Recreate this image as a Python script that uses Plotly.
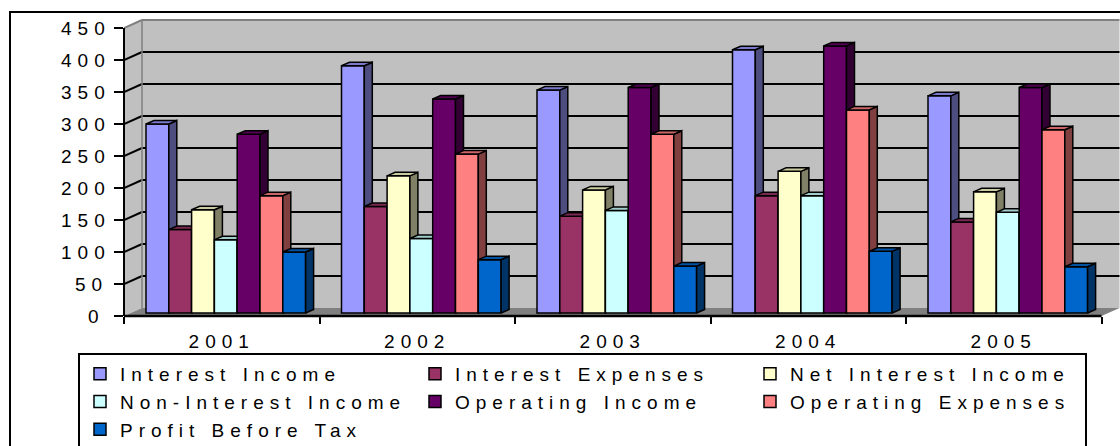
import plotly.graph_objects as go

# ---- data -------------------------------------------------------------
years = ["2001", "2002", "2003", "2004", "2005"]
series_names = [
    "Interest Income", "Interest Expenses", "Net Interest Income",
    "Non-Interest Income", "Operating Income", "Operating Expenses",
    "Profit Before Tax",
]
interest_income = [300, 391, 353, 416, 344]
interest_expenses = [135, 171, 156, 188, 147]
net_interest_income = [166, 219, 197, 226, 194]
non_interest_income = [119, 121, 165, 188, 162]
operating_income = [284, 339, 357, 422, 357]
operating_expenses = [188, 253, 284, 322, 291]
profit_before_tax = [100, 88, 78, 101, 77]
y_ticks = [0, 50, 100, 150, 200, 250, 300, 350, 400, 450]

series_values = [
    interest_income, interest_expenses, net_interest_income,
    non_interest_income, operating_income, operating_expenses,
    profit_before_tax,
]

# front / side / top shades for the 3-D columns
palette = [
    ("#9999FF", "#4D4D80", "#7A7ACC"),
    ("#993366", "#4D1A33", "#7A2952"),
    ("#FFFFCC", "#808066", "#CCCCA3"),
    ("#CCFFFF", "#668080", "#A3CCCC"),
    ("#660066", "#330033", "#520052"),
    ("#FF8080", "#804040", "#CC6666"),
    ("#0066CC", "#003366", "#0052A3"),
]

# ---- geometry ---------------------------------------------------------
W, H = 1120, 446
ML, MT, MB, MR = 124, 18, 130, 0
plot_w = W - ML - MR
plot_h = H - MT - MB
CAT_PX = 195.5          # pixels per category
VAL_PX = 0.64           # pixels per value unit
x_range = [-0.5, -0.5 + plot_w / CAT_PX]
y_range = [0, plot_h / VAL_PX]


def ux(p):
    return p / CAT_PX


def uy(p):
    return p / VAL_PX


def xp(x):
    return (x - x_range[0]) / (x_range[1] - x_range[0])


def yp(y):
    return (y - y_range[0]) / (y_range[1] - y_range[0])


WALL_DX, WALL_DY = ux(18), uy(8)
BAR_DX, BAR_DY = ux(8), uy(3.5)
BAR_W = ux(22.8)
GROUP_LEFT = ux(22)
BAR_BASE = uy(3)
TOP = y_ticks[-1]
N = len(years)
FONT = "Liberation Sans, Arial, sans-serif"
FS = 19

fig = go.Figure()

# ---- columns: one overlaid subplot per series so later series sit on top
for k, (name, vals) in enumerate(zip(series_names, series_values)):
    front, side, top = palette[k]
    xa = "x" if k == 0 else f"x{k + 1}"
    ya = "y" if k == 0 else f"y{k + 1}"
    offset = -0.5 + GROUP_LEFT + k * BAR_W
    fig.add_trace(go.Bar(
        name=name, x=list(range(N)), y=[v - BAR_BASE for v in vals],
        base=BAR_BASE, width=BAR_W, offset=offset,
        marker=dict(color=front, line=dict(color="black", width=1.5)),
        xaxis=xa, yaxis=ya, hoverinfo="skip", showlegend=True,
    ))
    sx, sy, tx, ty = [], [], [], []
    for i, v in enumerate(vals):
        xl = i + offset
        xr = xl + BAR_W
        sx += [xr, xr + BAR_DX, xr + BAR_DX, xr, xr, None]
        sy += [BAR_BASE, BAR_BASE + BAR_DY, v + BAR_DY, v, BAR_BASE, None]
        tx += [xl, xr, xr + BAR_DX, xl + BAR_DX, xl, None]
        ty += [v, v, v + BAR_DY, v + BAR_DY, v, None]
    for px_, py_, col in ((sx, sy, side), (tx, ty, top)):
        fig.add_trace(go.Scatter(
            x=px_, y=py_, mode="lines", fill="toself", fillcolor=col,
            line=dict(color="black", width=1.5), xaxis=xa, yaxis=ya,
            hoverinfo="skip", showlegend=False,
        ))

# ---- walls, floor and gridlines --------------------------------------
shapes = []
x0, x1 = -0.5, N - 0.5
bx0, bx1 = x0 + WALL_DX, x1 + WALL_DX


def poly(pts, fill, line_col=None, lw=0):
    path = "M " + " L ".join(f"{a},{b}" for a, b in pts) + " Z"
    return dict(type="path", path=path, xref="x", yref="y", layer="below",
                fillcolor=fill, line=dict(color=line_col or fill, width=lw))


shapes.append(poly([(bx0, WALL_DY), (bx1, WALL_DY), (bx1, TOP + WALL_DY),
                    (bx0, TOP + WALL_DY)], "#C0C0C0"))
shapes.append(poly([(x0, 0), (bx0, WALL_DY), (bx0, TOP + WALL_DY), (x0, TOP)],
                   "#C0C0C0"))
shapes.append(poly([(x0, 0), (x1, 0), (bx1, WALL_DY), (bx0, WALL_DY)],
                   "#808080"))

for t in y_ticks[1:]:
    col = "#808080" if t == TOP else "black"
    shapes.append(dict(type="line", xref="x", yref="y", layer="below",
                       x0=bx0, x1=bx1, y0=t + WALL_DY, y1=t + WALL_DY,
                       line=dict(color=col, width=2)))
    shapes.append(dict(type="line", xref="x", yref="y", layer="below",
                       x0=x0, x1=bx0, y0=t, y1=t + WALL_DY,
                       line=dict(color=col, width=2)))
shapes.append(dict(type="line", xref="x", yref="y", layer="below",
                   x0=bx0, x1=bx0, y0=WALL_DY, y1=TOP + WALL_DY,
                   line=dict(color="#808080", width=1.5)))

# value and category axis lines
shapes.append(dict(type="line", xref="paper", yref="paper",
                   x0=xp(x0), x1=xp(x0), y0=yp(0), y1=yp(TOP),
                   line=dict(color="black", width=2)))
shapes.append(dict(type="line", xref="paper", yref="paper",
                   x0=xp(x0), x1=xp(x1), y0=yp(0), y1=yp(0),
                   line=dict(color="black", width=2.5)))

# chart-area border
shapes.append(dict(type="rect", xref="paper", yref="paper", layer="below",
                   x0=(10 - ML) / plot_w, x1=(W + 30 - ML) / plot_w,
                   y0=(H - MB - 12) / plot_h, y1=(H - MB - 480) / plot_h,
                   line=dict(color="black", width=2), fillcolor="white"))

# value-axis labels, right aligned left of the tick marks
label_right_px = 104
annotations = [
    dict(text=str(t), x=(label_right_px - ML) / plot_w, xref="paper",
         xanchor="right", y=t, yref="y", yanchor="middle", showarrow=False,
         font=dict(family=FONT, size=FS, color="black"))
    for t in y_ticks
]

# ---- layout -----------------------------------------------------------
layout = dict(
    width=W, height=H,
    margin=dict(l=ML, r=MR, t=MT, b=MB, pad=0, autoexpand=False),
    paper_bgcolor="white", plot_bgcolor="rgba(0,0,0,0)",
    font=dict(family=FONT, size=FS, color="black"),
    showlegend=True,
    shapes=shapes,
    annotations=annotations,
    legend=dict(
        orientation="h", x=(78 - ML) / plot_w, y=(plot_h + MT - 353) / plot_h,
        xanchor="left", yanchor="top",
        entrywidth=290, entrywidthmode="pixels",
        bgcolor="white", bordercolor="black", borderwidth=2,
        font=dict(family=FONT, size=FS, color="black"),
        traceorder="normal",
    ),
    xaxis=dict(
        range=x_range, tickmode="array", tickvals=list(range(N)),
        ticktext=years, ticks="", showgrid=False, zeroline=False,
        showline=False, fixedrange=True, ticklabelstandoff=12,
        automargin=False,
        tickfont=dict(family=FONT, size=FS, color="black"),
        minor=dict(ticks="outside", ticklen=7, tickwidth=2,
                   tickcolor="black", tickmode="array",
                   tickvals=[i - 0.5 for i in range(N + 1)], showgrid=False),
    ),
    yaxis=dict(
        range=y_range, tickmode="array", tickvals=y_ticks, ticks="outside",
        ticklen=9, tickwidth=2, tickcolor="black", showgrid=False,
        zeroline=False, showline=False, fixedrange=True,
        showticklabels=False, automargin=False,
    ),
    barmode="overlay",
)
for k in range(1, len(series_names)):
    layout[f"xaxis{k + 1}"] = dict(range=x_range, overlaying="x",
                                   visible=False, fixedrange=True)
    layout[f"yaxis{k + 1}"] = dict(range=y_range, overlaying="y",
                                   visible=False, fixedrange=True)

fig.update_layout(**layout)

# wide character tracking for axis and legend text, then redraw so the
# text is measured with the tracking in place
tracking = (
    "var s=document.createElement('style');"
    "s.textContent='.xtick text,.annotation-text,.legendtext"
    "{letter-spacing:6px}';"
    "document.head.appendChild(s);"
    "var gd=document.getElementById('{plot_id}');"
    "return Plotly.newPlot(gd, gd.data, gd.layout);"
)
fig.write_html("out.html", post_script=tracking)
